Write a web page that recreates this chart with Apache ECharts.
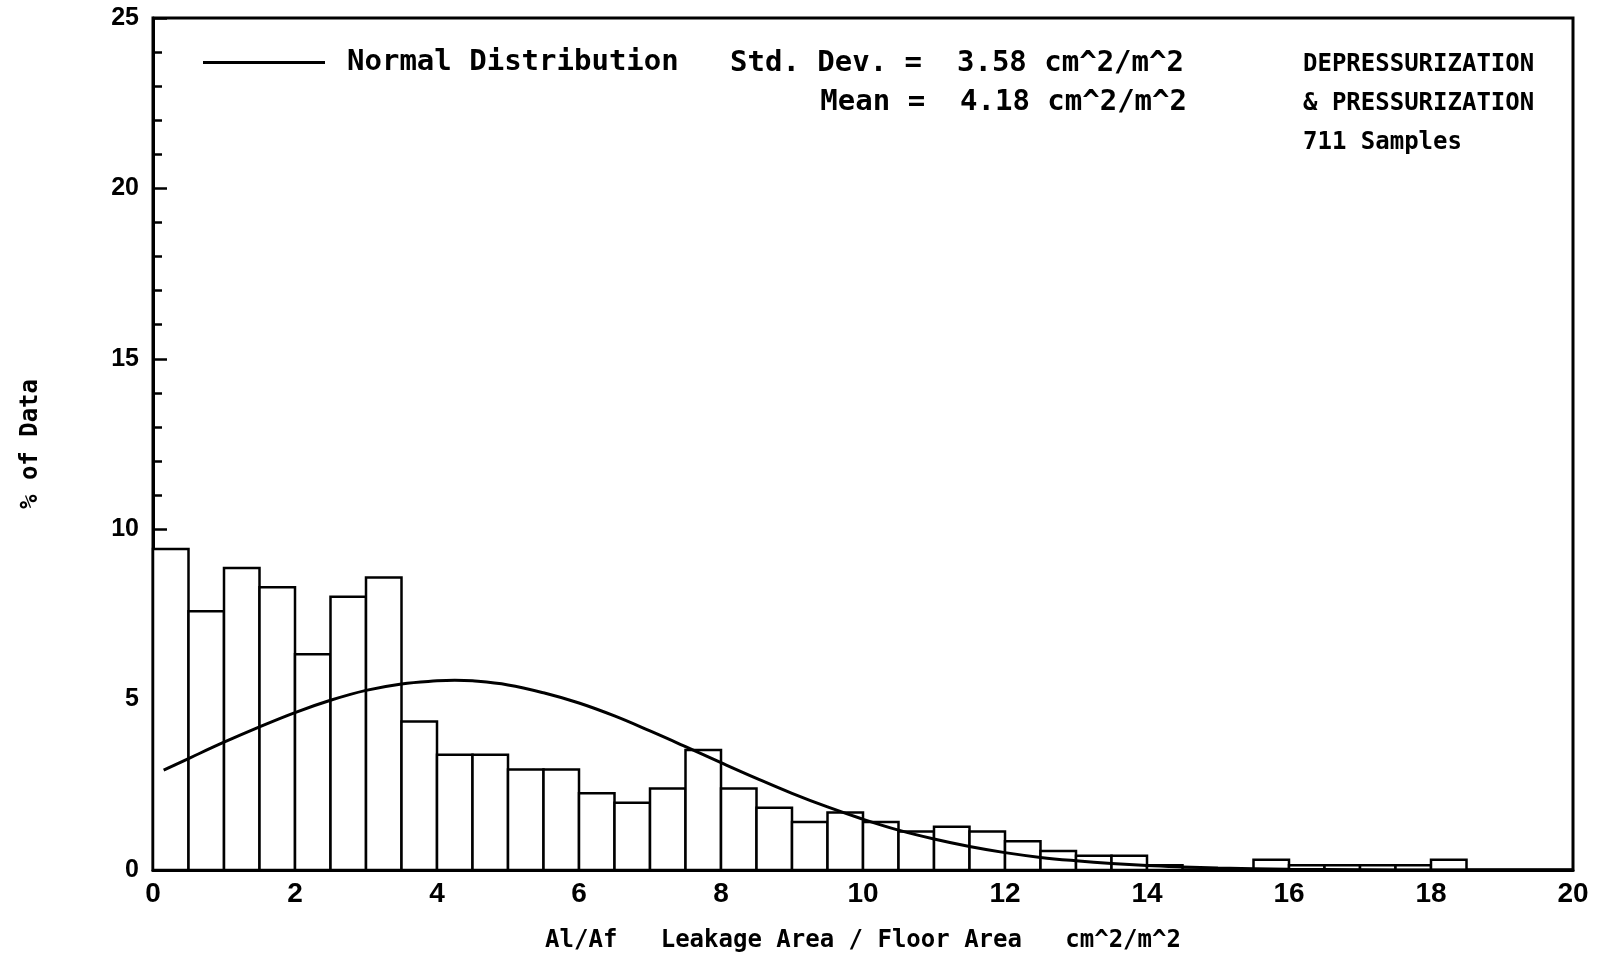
<!DOCTYPE html>
<html>
<head>
<meta charset="utf-8">
<script src="https://cdn.jsdelivr.net/npm/echarts@6.0.0/dist/echarts.min.js"></script>
<style>
html, body { margin: 0; padding: 0; background: #fff; }
#chart { width: 1602px; height: 958px; }
</style>
</head>
<body>
<div id="chart"></div>
<script>
// histogram bins (cm^2/m^2), lower and upper edge
var binLo = [0, 0.5, 1, 1.5, 2, 2.5, 3, 3.5, 4, 4.5, 5, 5.5, 6, 6.5, 7, 7.5, 8, 8.5, 9, 9.5,
	10, 10.5, 11, 11.5, 12, 12.5, 13, 13.5, 14, 14.5, 15, 15.5, 16, 16.5, 17, 17.5, 18, 18.5, 19, 19.5];
var binHi = [0.5, 1, 1.5, 2, 2.5, 3, 3.5, 4, 4.5, 5, 5.5, 6, 6.5, 7, 7.5, 8, 8.5, 9, 9.5, 10,
	10.5, 11, 11.5, 12, 12.5, 13, 13.5, 14, 14.5, 15, 15.5, 16, 16.5, 17, 17.5, 18, 18.5, 19, 19.5, 20];
// % of data in each bin
var binPct = [9.42, 7.59, 8.86, 8.30, 6.33, 8.02, 8.58, 4.36, 3.38, 3.38, 2.95, 2.95, 2.25, 1.97, 2.39, 3.52, 2.39, 1.83, 1.41, 1.69,
	1.41, 1.13, 1.27, 1.13, 0.84, 0.56, 0.42, 0.42, 0.14, 0, 0, 0.3, 0.14, 0.14, 0.14, 0.14, 0.3, 0, 0, 0];

// normal distribution curve
var curveX = [0.15, 0.5, 1, 1.5, 2, 2.5, 3, 3.5, 4, 4.25, 4.5, 5, 5.5, 6, 6.5, 7, 7.5, 8, 8.5, 9, 9.5,
	10, 10.5, 11, 11.5, 12, 12.5, 13, 13.5, 14, 14.5, 15, 16, 17, 18, 20];
var curveY = [2.93, 3.27, 3.75, 4.2, 4.62, 4.98, 5.27, 5.46, 5.55, 5.57, 5.55, 5.43, 5.2, 4.9, 4.52, 4.08, 3.62, 3.15, 2.69, 2.25, 1.85,
	1.49, 1.17, 0.91, 0.69, 0.51, 0.37, 0.27, 0.19, 0.13, 0.09, 0.06, 0.02, 0.01, 0, 0];

var xTicks = ['0', '2', '4', '6', '8', '10', '12', '14', '16', '18', '20'];
var yTicks = ['0', '5', '10', '15', '20', '25'];

var mono = '"DejaVu Sans Mono", monospace';
var narrow = '"Liberation Sans Narrow", "Liberation Sans", sans-serif';

var bins = binLo.map(function(lo, i) {
	return [lo, binHi[i], binPct[i]];
});
var curve = curveX.map(function(x, i) {
	return [x, curveY[i]];
});

var myChart = echarts.init(document.getElementById('chart'));
var option = {
	backgroundColor : '#fff',
	animation : false,
	grid : {
		left : 153,
		right : 29,
		top : 18,
		bottom : 88,
		show : true,
		borderColor : '#000',
		borderWidth : 3
	},
	legend : {
		data : [ {
			name : 'Normal Distribution',
			icon : 'rect'
		} ],
		left : 198,
		top : 43,
		itemWidth : 122,
		itemHeight : 3,
		textStyle : {
			fontFamily : mono,
			fontWeight : 'bold',
			fontSize : 29,
			color : '#000',
			padding : [ 0, 0, 0, 17 ]
		}
	},
	xAxis : {
		type : 'value',
		min : 0,
		max : 20,
		interval : 2,
		name : 'Al/Af   Leakage Area / Floor Area   cm^2/m^2',
		nameLocation : 'middle',
		nameGap : 59,
		nameTextStyle : {
			fontFamily : mono,
			fontWeight : 'bold',
			fontSize : 24,
			color : '#000'
		},
		axisLine : {
			lineStyle : { color : '#000', width : 3 }
		},
		axisTick : { show : false },
		splitLine : { show : false },
		axisLabel : {
			margin : 10,
			fontFamily : narrow,
			fontWeight : 'bold',
			fontSize : 28,
			color : '#000',
			formatter : function(v) {
				return xTicks[Math.round(v / 2)];
			}
		}
	},
	yAxis : {
		type : 'value',
		min : 0,
		max : 25,
		interval : 5,
		name : '% of Data',
		nameLocation : 'middle',
		nameGap : 110,
		nameRotate : 90,
		nameTextStyle : {
			fontFamily : mono,
			fontWeight : 'bold',
			fontSize : 24,
			color : '#000'
		},
		axisLine : {
			show : true,
			lineStyle : { color : '#000', width : 3 }
		},
		axisTick : {
			inside : true,
			length : 14,
			lineStyle : { color : '#000', width : 2.5 }
		},
		minorTick : {
			show : true,
			splitNumber : 5,
			length : 9,
			lineStyle : { color : '#000', width : 2.5 }
		},
		splitLine : { show : false },
		axisLabel : {
			margin : 14,
			fontFamily : narrow,
			fontWeight : 'bold',
			fontSize : 25,
			color : '#000',
			formatter : function(v) {
				return yTicks[Math.round(v / 5)];
			}
		}
	},
	series : [ {
		name : 'bins',
		type : 'custom',
		data : bins,
		renderItem : function(params, api) {
			var p0 = api.coord([ api.value(0), api.value(2) ]);
			var p1 = api.coord([ api.value(1), 0 ]);
			return {
				type : 'rect',
				shape : {
					x : p0[0],
					y : p0[1],
					width : p1[0] - p0[0],
					height : p1[1] - p0[1]
				},
				style : {
					fill : '#fff',
					stroke : '#000',
					lineWidth : 2.5
				}
			};
		},
		z : 2
	}, {
		name : 'Normal Distribution',
		type : 'line',
		data : curve,
		smooth : 0.4,
		symbol : 'none',
		lineStyle : { color : '#000', width : 3 },
		itemStyle : { color : '#000' },
		z : 3
	} ],
	graphic : [ {
		type : 'text',
		left : 730,
		top : 49,
		style : {
			text : 'Std. Dev. =  3.58 cm^2/m^2',
			font : 'bold 29px ' + mono,
			fill : '#000'
		}
	}, {
		type : 'text',
		right : 1602 - 1187,
		top : 88,
		style : {
			text : 'Mean =  4.18 cm^2/m^2',
			font : 'bold 29px ' + mono,
			fill : '#000'
		}
	}, {
		type : 'text',
		left : 1303,
		top : 45,
		style : {
			text : 'DEPRESSURIZATION\n& PRESSURIZATION\n711 Samples',
			font : 'bold 24px ' + mono,
			lineHeight : 39,
			fill : '#000'
		}
	} ]
};
if (option && typeof option === "object") {
	myChart.setOption(option, true);
}
</script>
</body>
</html>
